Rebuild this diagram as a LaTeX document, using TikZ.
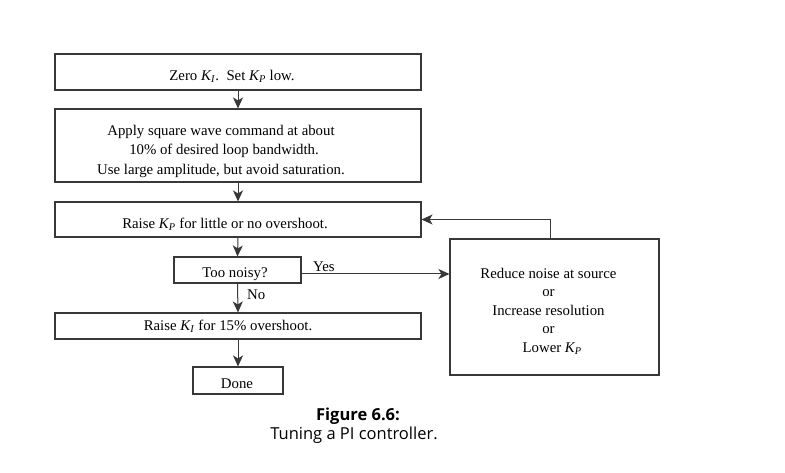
\documentclass[tikz,border=0pt]{standalone}
\usepackage{fontspec}
\setmainfont{Liberation Serif}
\newfontfamily\capfont{Open Sans}
\usetikzlibrary{arrows.meta,calc}
\newcommand\Kgain[1]{\textit{K}\textsubscript{\kern-0.5pt\textit{#1}}}
\tikzset{
  box/.style={draw=black!78, line width=1.1pt, rectangle, inner sep=0pt},
  txt/.style={inner sep=0pt, align=center, font=\fontsize{14.8}{19.5}\selectfont},
  rtxt/.style={inner sep=0pt, align=center, font=\fontsize{14.8}{18.5}\selectfont},
  flow/.style={draw=black!78, line width=1pt, -{Stealth[length=11pt,width=10pt,inset=3pt]}},
  lbl/.style={inner sep=0pt, font=\fontsize{14.8}{18}\selectfont},
}
\begin{document}
\begin{tikzpicture}[x=1pt,y=-1pt]
\useasboundingbox (0,0) rectangle (785,473);
% boxes
\node[box, minimum width=366pt, minimum height=36pt] (b1) at (238,72) {};
\node[box, minimum width=366pt, minimum height=73pt] (b2) at (238,145.5) {};
\node[box, minimum width=366pt, minimum height=35pt] (b3) at (238,219.5) {};
\node[box, minimum width=127pt, minimum height=26pt] (noisy) at (237.5,270) {};
\node[box, minimum width=366pt, minimum height=26pt] (b5) at (238,326) {};
\node[box, minimum width=90pt, minimum height=27pt] (done) at (238,380.5) {};
\node[box, minimum width=209pt, minimum height=136pt] (reduce) at (554.5,307) {};
% texts
\node[txt] (b1t) at (232,76) {Zero \Kgain{I}.\ \ Set \Kgain{P} low.};
\node[txt] (b2t) at (221,151)
  {Apply square wave command at about\\\hspace*{6pt}10\% of desired loop bandwidth.\\Use large amplitude, but avoid saturation.};
\node[txt] (b3t) at (225,224.5) {Raise \Kgain{P} for little or no overshoot.};
\node[txt] (noisyt) at (235,274) {Too noisy?};
\node[txt] (b5t) at (228,326.5) {Raise \Kgain{I} for 15\% overshoot.};
\node[txt] (donet) at (237,384) {Done};
\node[rtxt] (reducet) at (548.5,311)
  {Reduce noise at source\\or\\Increase resolution\\or\\\ \ Lower \Kgain{P}};
% connectors
\coordinate (fbtop) at (550,219.5);
\draw[flow] (b1.south) -- (b2.north);
\draw[flow] (b2.south) -- (b3.north);
\draw[flow] (b3.south) -- (noisy.north);
\draw[flow] (noisy.south) -- (b5.north);
\draw[flow] (b5.south) -- (done.north);
\draw[flow] ([yshift=-4pt]noisy.east) -- ([yshift=-4pt]noisy.east -| reduce.west);
\draw[flow] (reduce.north -| fbtop) -- (fbtop) -- (b3.east);
\node[lbl, anchor=base west] (yes) at (313,271.5) {Yes};
\node[lbl, anchor=base west] (no) at (247,300) {No};
% caption
\node[inner sep=0pt, anchor=base, font=\capfont\bfseries\fontsize{16.5}{18}\selectfont] (cap1) at (358,420) {Figure 6.6:};
\node[inner sep=0pt, anchor=base, font=\capfont\fontsize{16.5}{18}\selectfont] (cap2) at (354,439) {Tuning a PI controller.};
\end{tikzpicture}
\end{document}
